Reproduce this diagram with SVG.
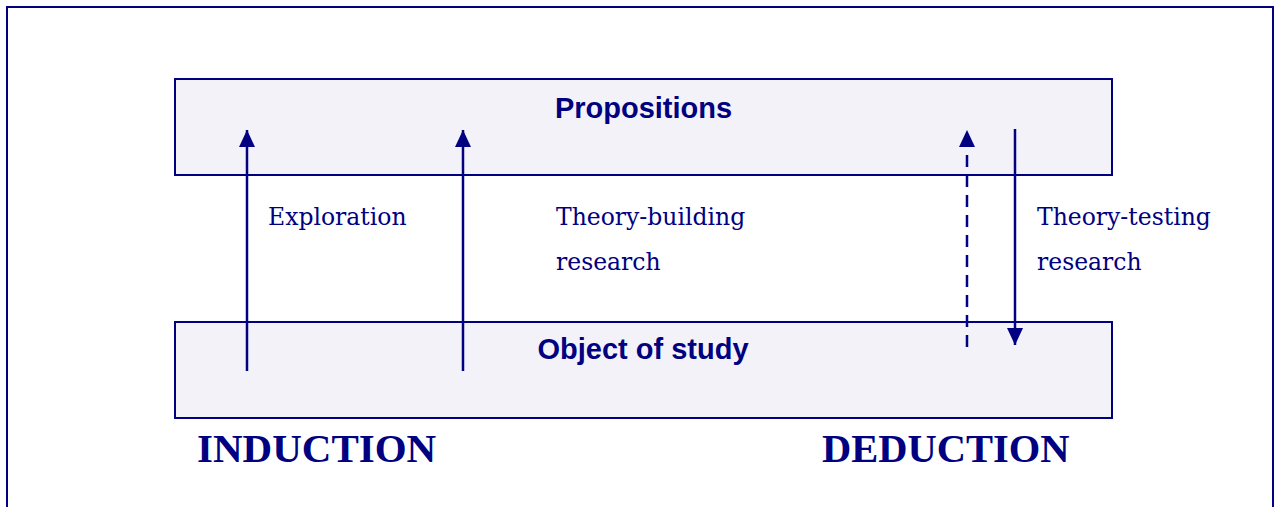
<svg xmlns="http://www.w3.org/2000/svg" width="1276" height="507" viewBox="0 0 1276 507">
  <style>
    .frame { fill: #ffffff; stroke: #000080; stroke-width: 2; }
    .box { fill: #f2f2f8; stroke: #000080; stroke-width: 2; }
    .title { font-family: "Liberation Sans", Arial, sans-serif; font-weight: bold; font-size: 29px; fill: #000080; text-anchor: middle; }
    .label { font-family: "DejaVu Serif", Georgia, serif; font-size: 23.5px; fill: #000080; }
    .big { font-family: "Liberation Serif", "Times New Roman", serif; font-weight: bold; font-size: 40.5px; fill: #000080; }
    .conn { stroke: #000080; stroke-width: 2.5; fill: none; }
    .dashed { stroke-dasharray: 12 8; }
  </style>
  <defs>
    <marker id="head" viewBox="0 0 17 16" refX="17" refY="8" markerWidth="17" markerHeight="16" markerUnits="userSpaceOnUse" orient="auto">
      <path d="M0,0 L17,8 L0,16 Z" fill="#000080"/>
    </marker>
  </defs>

  <rect class="frame" x="7" y="7" width="1266" height="520"/>

  <g id="propositions">
    <rect class="box" x="175" y="79" width="937" height="96"/>
    <text class="title" x="643.5" y="118">Propositions</text>
  </g>

  <g id="object-of-study">
    <rect class="box" x="175" y="322" width="937" height="96"/>
    <text class="title" x="643" y="359">Object of study</text>
  </g>

  <g id="connectors">
    <line class="conn" x1="247" y1="371" x2="247" y2="130" marker-end="url(#head)"/>
    <line class="conn" x1="463" y1="371" x2="463" y2="130" marker-end="url(#head)"/>
    <line class="conn dashed" x1="967" y1="347" x2="967" y2="130" marker-end="url(#head)"/>
    <line class="conn" x1="1015" y1="129" x2="1015" y2="345" marker-end="url(#head)"/>
  </g>

  <g id="labels">
    <text class="label" x="268" y="225">Exploration</text>
    <text class="label" x="556" y="225">Theory-building</text>
    <text class="label" x="556" y="270">research</text>
    <text class="label" x="1037" y="225">Theory-testing</text>
    <text class="label" x="1037" y="270">research</text>
  </g>

  <g id="induction">
    <text class="big" x="197" y="462" style="font-size:41px">INDUCTION</text>
  </g>
  <g id="deduction">
    <text class="big" x="822" y="462">DEDUCTION</text>
  </g>
</svg>
